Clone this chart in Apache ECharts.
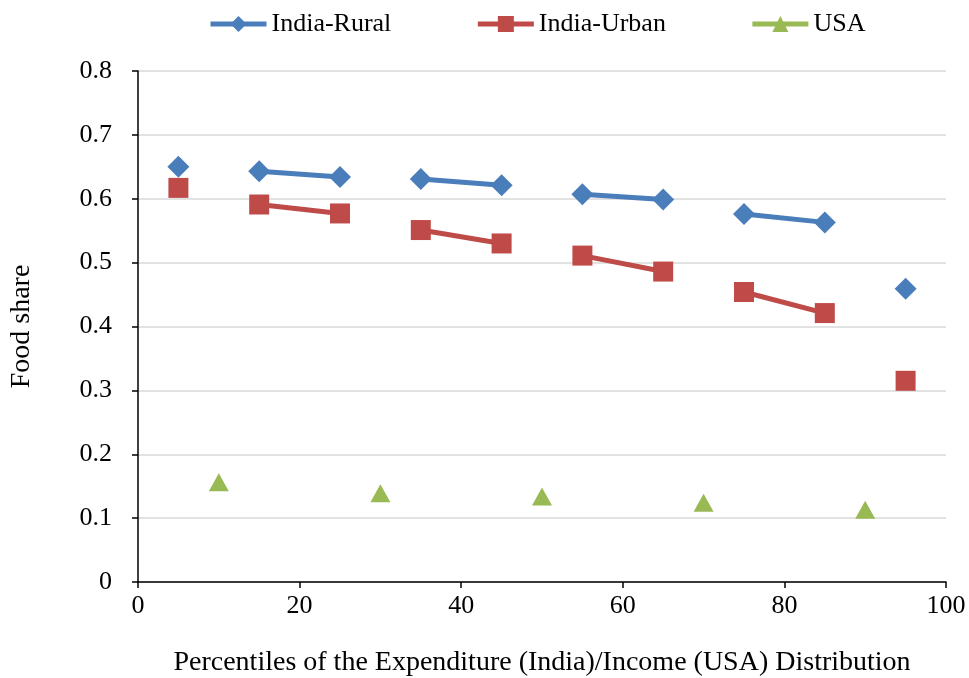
<!DOCTYPE html>
<html>
<head>
<meta charset="utf-8">
<script src="https://cdn.jsdelivr.net/npm/echarts@6/dist/echarts.min.js"></script>
<style>
  html, body { margin: 0; padding: 0; background: white; }
  #chart { width: 969px; height: 678px; }
</style>
</head>
<body>
<div id="chart"></div>
<script>
// percentile midpoints, '-' marks a break in the line
const indiaX = [5, 10, 15, 25, 30, 35, 45, 50, 55, 65, 70, 75, 85, 90, 95];
const ruralShare = [0.650, '-', 0.643, 0.634, '-', 0.631, 0.621, '-', 0.607, 0.599, '-', 0.576, 0.563, '-', 0.459];
const urbanShare = [0.617, '-', 0.591, 0.577, '-', 0.551, 0.530, '-', 0.511, 0.486, '-', 0.454, 0.421, '-', 0.315];
const usaX = [10, 30, 50, 70, 90];
const usaShare = [0.156, 0.139, 0.134, 0.124, 0.113];
const seriesNames = ["India-Rural", "India-Urban", "USA"];
const colors = ["#4a7ebb", "#be4b48", "#98b954"];

const font = "'Liberation Serif', 'DejaVu Serif', serif";

const chart = echarts.init(document.getElementById("chart"));

const axisCommon = {
  axisLine: { show: true, lineStyle: { color: "#000", width: 1.5 } },
  axisTick: { show: true, inside: false, length: 6, lineStyle: { color: "#000", width: 1.5 } },
  axisLabel: { color: "#000", fontSize: 26, fontFamily: font },
  nameTextStyle: { color: "#000", fontSize: 28, fontFamily: font },
};

chart.setOption({
  animation: false,
  backgroundColor: "#fff",
  textStyle: { fontFamily: font },
  grid: { left: 138, right: 23, top: 71, bottom: 96, outerBoundsMode: "none" },
  legend: {
    top: 6,
    left: 203,
    itemWidth: 56,
    itemHeight: 20,
    itemGap: 84,
    data: seriesNames.map((n, i) => ({
      name: n,
      lineStyle: { width: 5, color: colors[i], opacity: 1 },
    })),
    textStyle: { color: "#000", fontSize: 26, fontFamily: font },
  },
  xAxis: {
    ...axisCommon,
    type: "value",
    min: 0,
    max: 100,
    interval: 20,
    splitLine: { show: false },
    axisLabel: { ...axisCommon.axisLabel, margin: 11 },
    name: "Percentiles of the Expenditure (India)/Income (USA) Distribution",
    nameLocation: "middle",
    nameGap: 67,
  },
  yAxis: {
    ...axisCommon,
    type: "value",
    min: 0,
    max: 0.8,
    interval: 0.1,
    splitLine: { show: true, lineStyle: { color: "#d9d9d9", width: 1.5 } },
    axisLabel: {
      ...axisCommon.axisLabel,
      margin: 26,
      formatter: (v) => (v === 0 ? "0" : v.toFixed(1)),
    },
    name: "Food share",
    nameLocation: "middle",
    nameGap: 102,
  },
  series: [
    {
      name: seriesNames[0],
      type: "line",
      data: indiaX.map((x, i) => [x, ruralShare[i]]),
      connectNulls: false,
      symbol: "diamond",
      symbolSize: 22,
      showAllSymbol: true,
      color: colors[0],
      lineStyle: { width: 5, color: colors[0] },
      itemStyle: { color: colors[0] },
    },
    {
      name: seriesNames[1],
      type: "line",
      data: indiaX.map((x, i) => [x, urbanShare[i]]),
      connectNulls: false,
      symbol: "rect",
      symbolSize: 20,
      showAllSymbol: true,
      color: colors[1],
      lineStyle: { width: 5, color: colors[1] },
      itemStyle: { color: colors[1] },
    },
    {
      name: seriesNames[2],
      type: "line",
      data: usaX.map((x, i) => [x, usaShare[i]]),
      symbol: "triangle",
      symbolSize: [20, 18],
      showAllSymbol: true,
      color: colors[2],
      lineStyle: { width: 5, color: colors[2], opacity: 0 },
      itemStyle: { color: colors[2] },
    },
  ],
});
</script>
</body>
</html>
